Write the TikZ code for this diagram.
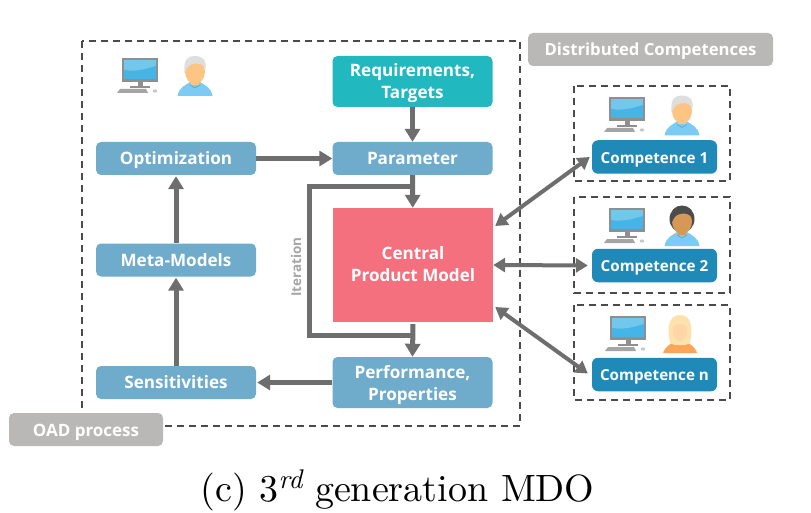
\documentclass[tikz,border=0pt]{standalone}
\usepackage{fontspec}
\usetikzlibrary{arrows.meta,calc}
\newfontfamily\boxfont[BoldFont={Open Sans Bold}]{Open Sans}
\font\capfont="[lmroman10-regular]" at 38pt
\font\capsup="[lmroman10-italic]" at 27pt
\definecolor{boxblue}{HTML}{6FABCA}
\definecolor{compblue}{HTML}{1F8AB8}
\definecolor{teal}{HTML}{22B8BF}
\definecolor{pinkred}{HTML}{F4707F}
\definecolor{labelgray}{HTML}{B9B8B7}
\definecolor{arrowgray}{HTML}{6E6E6E}
\definecolor{dashgray}{HTML}{4A4A4A}
\definecolor{screenblue}{HTML}{45B4E6}
\definecolor{framegray}{HTML}{8F8F8F}
\definecolor{skin}{HTML}{FDC583}
\definecolor{shirtblue}{HTML}{7CCBF5}
\definecolor{blondhair}{HTML}{FCE3AE}
\definecolor{shirtorange}{HTML}{F9A55A}
\newcommand{\computericon}[2]{%
  \begin{scope}[shift={(#1,#2)}]
    \fill[framegray] (0,0) rectangle (36,24);
    \fill[screenblue!75!white] (2,2) rectangle (34,21);
    \fill[screenblue] (2,12) .. controls (14,14) and (24,11) .. (34,8) -- (34,21) -- (2,21) -- cycle;
    \fill[framegray] (15.5,24) rectangle (20.5,28);
    \fill[framegray] (8,28) rectangle (28,30);
    \fill[framegray!80] (-5,35) -- (-2,31) -- (24,31) -- (26,35) -- cycle;
    \fill[framegray!50] (33,33) ellipse (2.2 and 1.6);
  \end{scope}}
\newcommand{\personicon}[5]{% x, top y, hair, skin, shirt
  \begin{scope}[shift={(#1,#2)}]
    \fill[#5] (-17.5,40) .. controls (-16,31) and (-9,29) .. (-5,26) -- (5,26) .. controls (9,29) and (16,31) .. (17.5,40) -- cycle;
    \fill[#4] (-4,22) rectangle (4,29);
    \fill[#4] (0,15.5) ellipse (10 and 12.5);
    \fill[#3] (-10.5,17) .. controls (-12,2) and (-6,0) .. (0,0) .. controls (6,0) and (12,3) .. (10.5,13) .. controls (8,7) and (2,7) .. (-2,8) .. controls (-7,9) and (-8,12) .. (-10.5,17) -- cycle;
    \draw[#5!75!black,line width=.5pt] (-5,29) -- (0,32) -- (5,29);
  \end{scope}}
\newcommand{\womanicon}[2]{%
  \begin{scope}[shift={(#1,#2)}]
    \fill[shirtorange] (-17,38) .. controls (-15,31) and (-9,29) .. (-5,26) -- (5,26) .. controls (9,29) and (15,31) .. (17,38) -- cycle;
    \fill[blondhair] (-10,28) .. controls (-13,14) and (-12,0) .. (0,0) .. controls (12,0) and (13,14) .. (10,28) .. controls (7,31) and (-7,31) .. (-10,28) -- cycle;
    \fill[skin!70!white] (0,16) ellipse (7.5 and 10);
    \fill[blondhair] (-8,13) .. controls (-5,7) and (5,7) .. (8,13) .. controls (7,3) and (-7,3) .. (-8,13) -- cycle;
  \end{scope}}
\tikzset{
  x=1pt,y=-1pt,
  flowbox/.style={fill=boxblue,text=white,rounded corners=5pt,align=center,inner sep=0pt,minimum width=160pt,font=\boxfont\bfseries\fontsize{17.1}{22}\selectfont,
    execute at begin node={\rule{0pt}{20pt}},execute at end node={\rule[-8pt]{0pt}{8pt}}},
  twoline/.style={execute at begin node={\rule{0pt}{#1pt}},execute at end node={\rule[-6pt]{0pt}{6pt}}},
  compbox/.style={fill=compblue,text=white,rounded corners=6pt,inner sep=0pt,minimum width=125pt,minimum height=33.5pt,font=\boxfont\bfseries\fontsize{15.2}{18}\selectfont,
    execute at begin node={\rule[-7.2pt]{0pt}{27.2pt}}},
  graylabel/.style={fill=labelgray,text=white,rounded corners=5pt,inner sep=0pt,minimum height=33pt,
    execute at begin node={\rule[-7pt]{0pt}{27pt}}},
  flowarrow/.style={draw=arrowgray,line width=5pt,-{Triangle[length=13pt,width=15pt]}},
  biarrow/.style={draw=arrowgray,line width=4pt,{Triangle[length=12pt,width=14pt]}-{Triangle[length=12pt,width=14pt]}},
  dashedframe/.style={draw=dashgray,line width=1.5pt,dash pattern=on 7pt off 5pt},
}
\begin{document}
\begin{tikzpicture}
\useasboundingbox (0,0) rectangle (811,513);
\fill[white] (0,0) rectangle (811,513);
% frames
\draw[dashedframe] (82,41) rectangle (520,426);
\draw[dashedframe] (574,86) rectangle (730,181);
\draw[dashedframe] (574,197) rectangle (730,293);
\draw[dashedframe] (574,305) rectangle (730,400);
% labels
\node[graylabel,minimum width=245pt,font=\boxfont\bfseries\fontsize{16.7}{18}\selectfont] (dist) at (650.5,49.5) {Distributed Competences};
\node[graylabel,minimum width=154pt,font=\boxfont\bfseries\fontsize{17}{18}\selectfont] (oad) at (86,429.5) {OAD process};
% blocks
\node[flowbox,twoline=43,fill=teal,minimum height=49pt] (req) at (412.5,81.5) {Requirements,\\Targets};
\node[flowbox,minimum height=33pt] (param) at (412.5,158.5) {Parameter};
\node[flowbox,minimum height=33pt] (opt) at (176,158.5) {Optimization};
\node[flowbox,minimum height=33pt] (meta) at (176,260) {Meta-Models};
\node[flowbox,minimum height=33pt] (sens) at (176,382.5) {Sensitivities};
\node[flowbox,twoline=43,minimum height=49pt] (perf) at (412.5,382.5) {Performance,\\Properties};
\node[flowbox,twoline=41,fill=pinkred,rounded corners=0pt,minimum height=114pt] (central) at (413,265) {Central\\Product Model};
\node[compbox] (c1) at (654.5,157) {Competence 1};
\node[compbox] (c2) at (654.5,265.5) {Competence 2};
\node[compbox] (cn) at (654.5,374.5) {Competence n};
\node[rotate=90,text=labelgray!90!black,font=\boxfont\bfseries\fontsize{13.5}{14}\selectfont] (iter) at (296,267) {Iteration};
\node[text=black,inner sep=0pt] (cap) at (397.5,490) {\capfont (c) 3\raisebox{13pt}{\capsup rd} generation MDO};
% icons
\computericon{122}{58}
\personicon{195}{56}{black!13}{skin}{shirtblue}
\computericon{609}{97}
\personicon{682}{95.5}{black!13}{skin}{shirtblue}
\computericon{609}{208}
\fill[black!70] (682,219) ellipse (12.5 and 13.5);
\personicon{682}{206}{black!70}{brown!65!skin}{shirtblue}
\computericon{610}{316}
\womanicon{680}{315}
% connectors
\coordinate (j1) at (param.south |- 0,187);
\coordinate (j2) at (perf.north |- 0,335);
\coordinate (l1) at (309,187);
\coordinate (l2) at (309,335);
\coordinate (ca) at ($(central.east)+(2,-39)$);
\coordinate (cb) at ($(central.east)+(2,42)$);
\draw[flowarrow] (req) -- (param);
\draw[flowarrow] (opt) -- (param);
\draw[flowarrow] (param) -- (central);
\draw[flowarrow,shorten <=2pt] (central.south) -- (perf.north);
\draw[draw=arrowgray,line width=5pt] (j1) -- (l1) -- (l2) -- (j2);
\draw[flowarrow,shorten >=1pt] (perf.west |- sens) -- (sens);
\draw[flowarrow,shorten >=1pt] (sens) -- (meta);
\draw[flowarrow,shorten >=1pt] (meta) -- (opt);
\draw[biarrow] (ca) -- ($(c1.west)+(-2,0)$);
\draw[biarrow,shorten >=4pt] (central.east) -- (c2.west);
\draw[biarrow] (cb) -- ($(cn.west)+(-4,-1)$);
\end{tikzpicture}
\end{document}
